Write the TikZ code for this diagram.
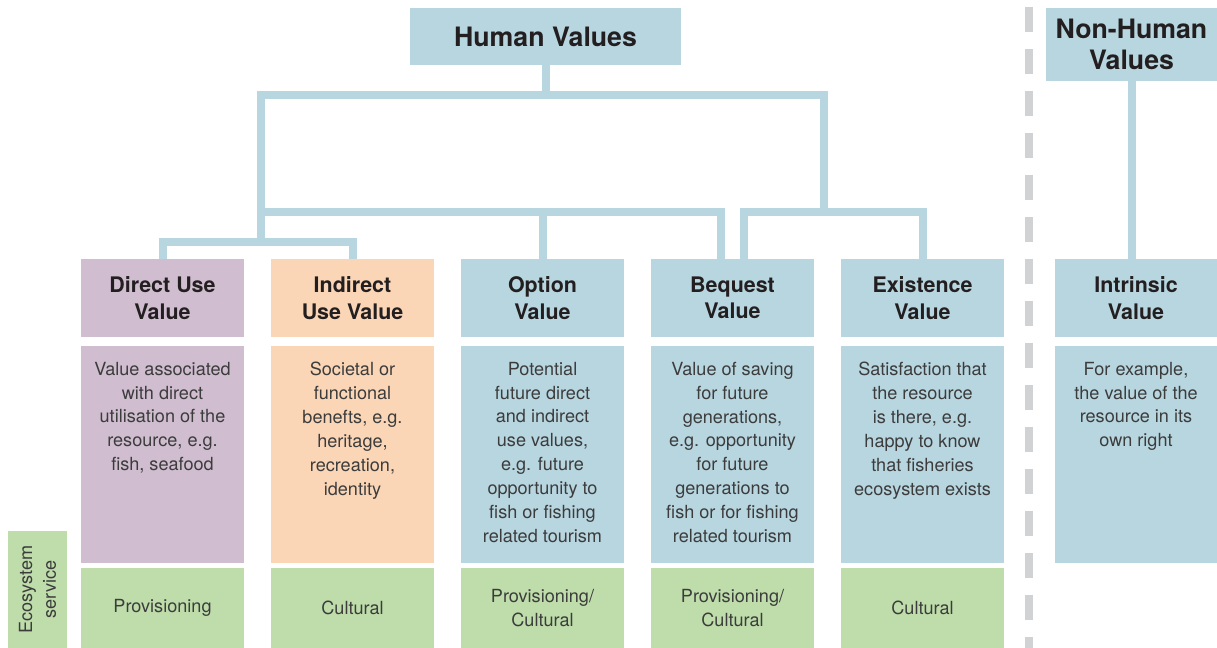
\documentclass[tikz,border=0pt]{standalone}
\usepackage{xcolor}
\usepackage{fontspec}
\setmainfont{TeX Gyre Heros}
\usepackage{tikz}
\usetikzlibrary{calc, positioning}
\definecolor{lilac}{HTML}{D0BED0}
\definecolor{peach}{HTML}{FAD6B7}
\definecolor{paleblue}{HTML}{B8D6E0}
\definecolor{sage}{HTML}{BEDDAA}
\definecolor{sepgray}{HTML}{D1D2D4}
\definecolor{inkdark}{HTML}{231F20}
\definecolor{inkbody}{HTML}{3C3C3C}
\tikzset{
    header/.style={rectangle, fill=paleblue, inner sep=0pt, align=center, text=inkdark, font=\fontsize{15.2}{18}\selectfont\bfseries},
    kind/.style={rectangle, inner sep=0pt, minimum width=3.26cm, minimum height=1.56cm, align=center, text=inkdark, font=\fontsize{12.2}{15.1}\selectfont\bfseries},
    desc/.style={rectangle, inner xsep=0pt, inner ysep=0.32cm, minimum width=3.26cm, minimum height=4.34cm, text=inkbody, font=\fontsize{10.3}{13.6}\selectfont,
        execute at begin node={\begin{minipage}[t][3.7cm][t]{3.26cm}\centering},
        execute at end node={\end{minipage}}},
    service/.style={rectangle, fill=sage, inner sep=0pt, minimum width=3.26cm, minimum height=1.6cm, align=center, text=inkbody, font=\fontsize{10.3}{13.6}\selectfont},
    link/.style={draw=paleblue, line width=0.16cm, line join=miter},
    divider/.style={draw=sepgray, line width=0.16cm, dash pattern=on 0.5cm off 0.34cm}
}

\begin{document}
\begin{tikzpicture}[x=0.02cm, y=-0.02cm]
    \useasboundingbox (0,0) rectangle (1217,648);

    % Top level
    \node[header, minimum width=5.42cm, minimum height=1.14cm] (human) at (545.5,36.5) {Human Values};
    \node[header, minimum width=3.42cm, minimum height=1.46cm] (nonhuman) at (1131.5,44.5) {Non-Human\\Values};

    % Value types
    \node[kind, fill=lilac] (direct) at (162.5,298) {Direct Use\\Value};
    \node[kind, fill=peach] (indirect) at (352.5,298) {Indirect\\Use Value};
    \node[kind, fill=paleblue] (option) at (542.5,298) {Option\\Value};
    \node[kind, fill=paleblue] (bequest) at (732.5,298) {Bequest\\Value};
    \node[kind, fill=paleblue] (existence) at (922.5,298) {Existence\\Value};
    \node[kind, fill=paleblue, minimum width=3.24cm] (intrinsic) at (1136,298) {Intrinsic\\Value};

    % Descriptions
    \node[desc, fill=lilac] (directD) at (162.5,454.5) {Value associated\\with direct\\utilisation of the\\resource, e.g.\\fish, seafood};
    \node[desc, fill=peach] (indirectD) at (352.5,454.5) {Societal or\\functional\\benefts, e.g.\\heritage,\\recreation,\\identity};
    \node[desc, fill=paleblue] (optionD) at (542.5,454.5) {Potential\\future direct\\and indirect\\use values,\\e.g. future\\opportunity to\\fish or fishing\\related tourism};
    \node[desc, fill=paleblue] (bequestD) at (732.5,454.5) {Value of saving\\for future\\generations,\\e.g. opportunity\\for future\\generations to\\fish or for fishing\\related tourism};
    \node[desc, fill=paleblue] (existenceD) at (922.5,454.5) {Satisfaction that\\the resource\\is there, e.g.\\happy to know\\that fisheries\\ecosystem exists};
    \node[desc, fill=paleblue, minimum width=3.24cm] (intrinsicD) at (1136,454.5) {For example,\\the value of the\\resource in its\\own right};

    % Ecosystem services
    \node[service, rotate=90, minimum width=2.34cm, minimum height=1.18cm] (ecolabel) at (37.5,589.5) {Ecosystem\\service};
    \node[service] (directS) at (162.5,608) {Provisioning};
    \node[service] (indirectS) at (352.5,608) {Cultural};
    \node[service] (optionS) at (542.5,608) {Provisioning/\\Cultural};
    \node[service] (bequestS) at (732.5,608) {Provisioning/\\Cultural};
    \node[service] (existenceS) at (922.5,608) {Cultural};

    % Tree
    \coordinate (barL) at (261,95);
    \coordinate (barR) at (824,95);
    \coordinate (midL) at (261,212);
    \coordinate (midR) at (824,212);
    \coordinate (useL) at (261,242);
    \draw[link] (human.south) -- (human.south |- barL);
    \draw[link] (useL) -- (barL) -- (barR) -- (midR);
    \draw[link] (direct.north) |- (useL) -| (indirect.north);
    \draw[link] (midL) -| ($(bequest.north)+(-11.5,0)$);
    \draw[link] (option.north) -- (option.north |- midL);
    \draw[link] ($(bequest.north)+(11.5,0)$) |- (existence.north |- midR) -- (existence.north);
    \draw[link] (nonhuman.south) -- (nonhuman.south |- intrinsic.north);

    % Separator
    \draw[divider] (1029,7) -- (1029,648);
\end{tikzpicture}
\end{document}
